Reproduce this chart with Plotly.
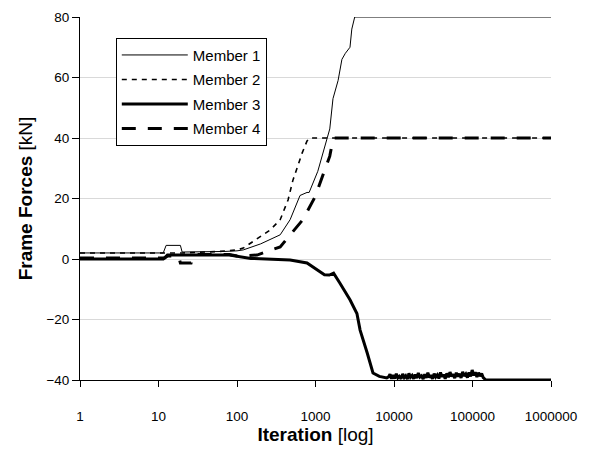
import plotly.graph_objects as go

# ---- data ----
m1_x = [1, 11.5, 12.5, 19, 20, 40, 70, 100, 120, 200, 265, 355, 475, 635, 780, 830, 1070, 1320, 1520, 1670, 1940, 2170, 2400, 2750, 2900, 3160, 1000000]
m1_y = [2, 2, 4.5, 4.5, 2.3, 2.3, 2.5, 2.7, 3, 5, 6.5, 8, 13, 21, 22, 22, 29, 37, 43, 53, 59, 66, 68, 70, 76, 80, 80]

m2_x = [1, 20, 60, 100, 120, 265, 355, 447, 515, 675, 780, 850, 1000000]
m2_y = [2, 2, 2.5, 3, 3.6, 9.6, 13, 19.5, 26, 35, 39, 40, 40]

m3_x = [1, 11.5, 13, 80, 150, 475, 780, 1140, 1300, 1500, 1700, 2050, 2750, 3370, 3700, 4550, 5400, 6500, 8100,
        8500, 8900, 9300, 9700, 10200, 10700, 11200, 11700, 12300, 12900, 13500, 14100, 14800, 15500,
        16200, 17000, 17800, 18600, 19500, 20400, 21400, 22400, 23500, 24600, 25800, 27000, 28300, 29600,
        31000, 32500, 34000, 35600, 37300, 39100, 41000, 42900, 44900, 47100, 49300, 51700, 54100, 56700,
        59400, 62200, 65200, 68300, 71500, 74900, 78500, 82200, 86100, 90200, 94500, 99000, 103700, 108600,
        113800, 119200, 124900, 130800, 137000, 143500, 148000, 1000000]
m3_y = [0, 0, 1.3, 1.3, 0.2, -0.3, -1.3, -4.2, -5.2, -5.3, -4.7, -8, -13.5, -18, -23.5, -31, -37.7, -38.8, -39.3,
        -39.0, -38.1, -39.6, -38.4, -39.5, -37.9, -39.3, -38.8, -39.6, -38.0, -39.2, -38.6, -39.7, -37.8,
        -39.1, -38.5, -39.6, -38.2, -39.4, -37.7, -39.0, -38.6, -39.7, -38.1, -39.3, -37.6, -39.2, -38.4,
        -39.6, -37.9, -39.0, -38.3, -39.5, -37.5, -38.9, -38.2, -39.6, -37.8, -39.1, -37.4, -38.8, -38.1,
        -39.4, -37.6, -38.9, -37.9, -39.3, -37.3, -38.7, -38.0, -39.2, -37.5, -38.8, -36.7, -38.5, -37.4,
        -39.0, -37.6, -38.7, -37.9, -39.2, -39.6, -40, -40]

m4_x = [1, 12, 13, 18, 19, 26, 28, 80, 100, 180, 355, 690, 985, 1400, 1520, 1670, 1750, 1000000]
m4_y = [0.3, 0.3, 1, 1, -1.3, -1.3, 1.5, 1.5, 1, 1.3, 4, 13, 20.5, 31, 34, 39.5, 40, 40]

x_ticks = [1, 10, 100, 1000, 10000, 100000, 1000000]
x_tick_text = ["1", "10", "100", "1000", "10000", "100000", "1000000"]
y_ticks = [-40, -20, 0, 20, 40, 60, 80]

names = ["Member 1", "Member 2", "Member 3", "Member 4"]

FONT = "Arial, Liberation Sans, sans-serif"

fig = go.Figure()
series = [
    (m1_x, m1_y, dict(color="black", width=1, dash="solid")),
    (m2_x, m2_y, dict(color="black", width=1.6, dash="5px,5px")),
    (m3_x, m3_y, dict(color="black", width=3, dash="solid")),
    (m4_x, m4_y, dict(color="black", width=3, dash="14px,12px")),
]
for i, ((xs, ys, ln), nm) in enumerate(zip(series, names)):
    fig.add_trace(go.Scatter(x=xs, y=ys, mode="lines", name=nm, line=ln,
                             legendgroup=f"g{i}"))

# the page has an 8px body margin, so the figure is sized to fit the window
fig.update_layout(
    width=582, height=442,
    margin=dict(l=72, r=39, t=9, b=70, autoexpand=False),
    paper_bgcolor="white", plot_bgcolor="white",
    font=dict(family=FONT, size=13.5, color="black"),
    showlegend=True,
    legend=dict(x=0.076, y=0.943, xanchor="left", yanchor="top",
                bgcolor="white", bordercolor="black", borderwidth=1,
                font=dict(family=FONT, size=15, color="black"),
                itemwidth=66, tracegroupgap=2, traceorder="grouped"),
    xaxis=dict(type="log", range=[0, 6], tickvals=x_ticks, ticktext=x_tick_text,
               automargin=False,
               showgrid=False, zeroline=False, showline=True, linecolor="black", linewidth=1,
               ticks="outside", ticklen=6, tickcolor="black", ticklabelstandoff=18,
               tickfont=dict(size=13.5, color="black"),
               title=dict(text="<b>Iteration</b> [log]", font=dict(size=19, color="black"), standoff=2)),
    yaxis=dict(range=[-40, 80], tickvals=y_ticks,
               automargin=False,
               showgrid=True, gridcolor="#d9d9d9", gridwidth=1, zeroline=False,
               showline=True, linecolor="black", linewidth=1,
               ticks="outside", ticklen=7, tickcolor="black",
               tickfont=dict(size=13.5, color="black"),
               title=dict(text="<b>Frame Forces</b> [kN]", font=dict(size=19, color="black"), standoff=8)),
)

fig.write_html("out.html")
